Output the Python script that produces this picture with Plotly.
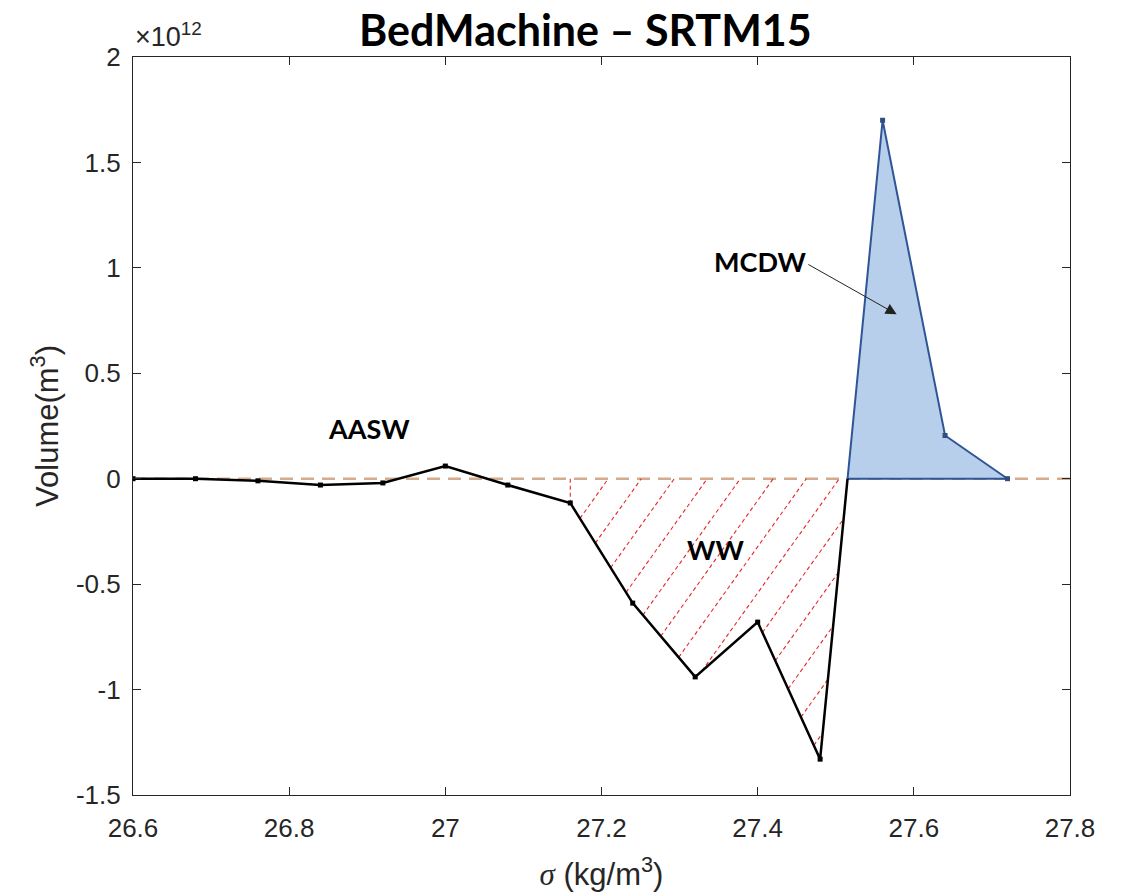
import numpy as np
import plotly.graph_objects as go

# Potential density classes (kg/m^3) and volume differences (units of 1e12 m^3)
sigma = [26.60, 26.68, 26.76, 26.84, 26.92, 27.00, 27.08, 27.16,
         27.24, 27.32, 27.40, 27.48, 27.56, 27.64, 27.72]
volume_1e12 = [0.0, 0.0, -0.01, -0.03, -0.02, 0.06, -0.03, -0.115,
               -0.59, -0.94, -0.68, -1.33, 1.70, 0.205, 0.0]

x_ticks = [26.6, 26.8, 27.0, 27.2, 27.4, 27.6, 27.8]
x_tick_labels = ["26.6", "26.8", "27", "27.2", "27.4", "27.6", "27.8"]
y_ticks = [-1.5, -1.0, -0.5, 0.0, 0.5, 1.0, 1.5, 2.0]
y_tick_labels = ["-1.5", "-1", "-0.5", "0", "0.5", "1", "1.5", "2"]

ww_start = 27.16          # left edge of the Winter Water band
x_range = [26.6, 27.8]
y_range = [-1.5, 2.0]

# ---- page geometry -------------------------------------------------------
W, H = 1122, 896
ML, MR, MT, MB = 133, 52, 57, 101
px_per_x = (W - ML - MR) / (x_range[1] - x_range[0])
px_per_y = (H - MT - MB) / (y_range[1] - y_range[0])

xs = np.array(sigma)
ys = np.array(volume_1e12)

# zero crossing between the last negative and the first large positive class
i_neg = int(np.where((ys[:-1] < 0) & (ys[1:] > 0))[0][-1])
x_cross = xs[i_neg] + (xs[i_neg + 1] - xs[i_neg]) * (-ys[i_neg]) / (ys[i_neg + 1] - ys[i_neg])

# black profile: up to the zero crossing
blk_x = list(xs[: i_neg + 1]) + [x_cross]
blk_y = list(ys[: i_neg + 1]) + [0.0]

# MCDW polygon: positive lobe closed along zero
pos_x = [x_cross] + list(xs[i_neg + 1:])
pos_y = [0.0] + list(ys[i_neg + 1:])
mcdw_x = pos_x + [pos_x[0]]
mcdw_y = pos_y + [0.0]

# WW polygon (between zero and the profile)
i_ww = int(np.argmin(np.abs(xs - ww_start)))
ww_poly = [(xs[i_ww], 0.0), (x_cross, 0.0)]
ww_poly += [(xs[j], ys[j]) for j in range(i_neg, i_ww - 1, -1)]

# ---- diagonal hatch clipped to the WW polygon -----------------------------
HATCH_SLOPE_PX = 1.4       # rise over run on screen
HATCH_GAP_PX = 33.0        # spacing along the zero line
k = HATCH_SLOPE_PX * px_per_x / px_per_y
dc = HATCH_GAP_PX / px_per_x
c0 = ww_start + 38.0 / px_per_x
c_max = x_cross + (0.0 - ys.min()) / k   # lines that only cut the lower corner

hx, hy = [], []
edges = list(zip(ww_poly, ww_poly[1:] + ww_poly[:1]))
c = c0
while c < c_max:
    pts = []
    for (xp, yp), (xq, yq) in edges:
        den = (yq - yp) - k * (xq - xp)
        if abs(den) < 1e-12:
            continue
        t = (k * (xp - c) - yp) / den
        if -1e-9 <= t < 1 - 1e-9:
            pts.append(xp + t * (xq - xp))
    pts = sorted(set(round(p, 9) for p in pts))
    for a, b in zip(pts[0::2], pts[1::2]):
        hx += [a, b, None]
        hy += [k * (a - c), k * (b - c), None]
    c += dc
# vertical left edge of the band
hx += [xs[i_ww], xs[i_ww], None]
hy += [0.0, ys[i_ww], None]

fig = go.Figure()

# zero reference line
fig.add_trace(go.Scatter(
    x=x_range, y=[0, 0], mode="lines",
    line=dict(color="#d3ab8e", width=2.5, dash="13px,8px"),
    hoverinfo="skip", showlegend=False))

# hatch
fig.add_trace(go.Scatter(
    x=hx, y=hy, mode="lines",
    line=dict(color="#e8262e", width=1.1, dash="4px,3px"),
    hoverinfo="skip", showlegend=False))

# MCDW filled lobe
fig.add_trace(go.Scatter(
    x=mcdw_x, y=mcdw_y, mode="lines", fill="toself",
    fillcolor="#b7cfea", line=dict(color="#2f5597", width=2),
    hoverinfo="skip", showlegend=False))
fig.add_trace(go.Scatter(
    x=list(xs[i_neg + 1:]), y=list(ys[i_neg + 1:]), mode="markers",
    marker=dict(symbol="square", size=5, color="#2f4f7f"),
    showlegend=False))

# main profile
fig.add_trace(go.Scatter(
    x=blk_x, y=blk_y, mode="lines",
    line=dict(color="black", width=2.5),
    showlegend=False))
fig.add_trace(go.Scatter(
    x=list(xs[: i_neg + 1]), y=list(ys[: i_neg + 1]), mode="markers",
    marker=dict(symbol="square", size=5, color="black"),
    showlegend=False))

sans = "Liberation Sans, Arial, sans-serif"
axis_font = dict(family=sans, size=26, color="#262626")
title_font = dict(family=sans, size=31, color="#262626")
label_font = dict(family="Lato, sans-serif", size=27, color="black")

fig.update_xaxes(
    range=x_range, tickvals=x_ticks, ticktext=x_tick_labels, automargin=False,
    showline=True, linecolor="#262626", linewidth=1.2, mirror="ticks",
    ticks="inside", ticklen=8, tickwidth=1, tickcolor="#262626",
    showgrid=False, zeroline=False, tickfont=axis_font, ticklabelstandoff=10,
    title=dict(text='<span style="font-family:Liberation Serif"><i>σ</i></span> (kg/m<sup>3</sup>)',
               font=title_font, standoff=21))
fig.update_yaxes(
    range=y_range, tickvals=y_ticks, ticktext=y_tick_labels, automargin=False,
    showline=True, linecolor="#262626", linewidth=1.2, mirror="ticks",
    ticks="inside", ticklen=8, tickwidth=1, tickcolor="#262626",
    showgrid=False, zeroline=False, tickfont=axis_font, ticklabelstandoff=6,
    title=dict(text="Volume(m<sup>3</sup>)", font=title_font, standoff=8))

annotations = [
    dict(text="<b>BedMachine – SRTM15</b>", xref="paper", yref="paper",
         x=(585 - ML) / (W - ML - MR), y=1.0, yshift=28, xanchor="center", yanchor="middle",
         showarrow=False, font=dict(family="Lato, sans-serif", size=43, color="black")),
    dict(text="×10<sup>12</sup>", xref="paper", yref="paper", x=0, y=1,
         xanchor="left", yanchor="bottom", xshift=0, yshift=3, showarrow=False,
         font=dict(family=sans, size=27, color="#262626")),
    dict(text="<b>AASW</b>", x=26.902, y=0.24, showarrow=False, font=label_font),
    dict(text="<b>WW</b>", x=27.346, y=-0.337, showarrow=False, font=label_font),
    dict(text="<b>MCDW</b>", x=27.404, y=1.03, showarrow=False, font=label_font),
    dict(text="", x=27.578, y=0.78, ax=27.463, ay=1.02, axref="x", ayref="y",
         showarrow=True, arrowhead=2, arrowsize=2.2, arrowwidth=1, arrowcolor="#222222"),
]

fig.update_layout(
    width=W, height=H, autosize=False,
    margin=dict(l=ML, r=MR, t=MT, b=MB),
    paper_bgcolor="white", plot_bgcolor="white",
    annotations=annotations, showlegend=False)

fig.write_html("out.html")
